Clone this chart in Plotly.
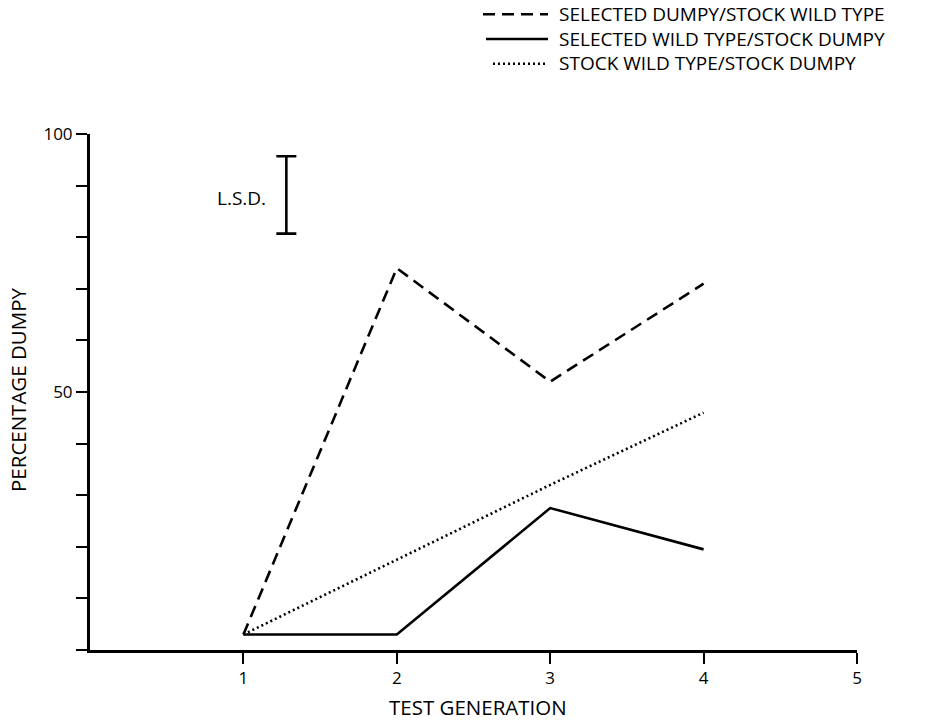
import plotly.graph_objects as go

# ---- data ----
generations = [1, 2, 3, 4]
sel_dumpy_stock_wild = [3, 74, 52, 71]      # dashed
sel_wild_stock_dumpy = [3, 3, 27.5, 19.5]   # solid
stock_wild_stock_dumpy = [3, 17.5, 32, 46]  # dotted
series_names = ["SELECTED DUMPY/STOCK WILD TYPE",
                "SELECTED WILD TYPE/STOCK DUMPY",
                "STOCK WILD TYPE/STOCK DUMPY"]
lsd_x = 1.28
lsd_center = 88.2
lsd_value = 15.0
x_ticks = [1, 2, 3, 4, 5]
y_ticks = [0, 10, 20, 30, 40, 50, 60, 70, 80, 90, 100]
y_ticklabels = ["", "", "", "", "", "50", "", "", "", "", "100"]
x_title = "TEST GENERATION"
y_title = "PERCENTAGE DUMPY"

FONT = "Open Sans"
W, H = 936, 720
ML, MR, MT, MB = 90, 79, 134, 70

dashes = ["12px,7px", "solid", "2px,3px"]
series = [sel_dumpy_stock_wild, sel_wild_stock_dumpy, stock_wild_stock_dumpy]

fig = go.Figure()
for name, vals, dash in zip(series_names, series, dashes):
    fig.add_trace(go.Scatter(x=generations, y=vals, mode="lines", name=name,
                             line=dict(color="black", width=2.6, dash=dash),
                             showlegend=False))

# L.S.D. bar
fig.add_trace(go.Scatter(x=[lsd_x], y=[lsd_center], mode="markers",
                         marker=dict(size=1, color="rgba(0,0,0,0)"),
                         error_y=dict(type="constant", value=lsd_value / 2,
                                      color="black", thickness=2.6, width=10),
                         showlegend=False))

# custom legend (paper coordinates from pixel positions)
pw, ph = W - ML - MR, H - MT - MB
def px(x):
    return (x - ML) / pw
def py(y):
    return (H - MB - y) / ph

LEG_FONT = 19
leg_mid = 39
leg_step = 1.3 * LEG_FONT
leg_rows = [leg_mid - leg_step, leg_mid, leg_mid + leg_step]
leg_x0 = [483, 486, 493]
for i, dash in enumerate(dashes):
    fig.add_shape(type="line", xref="paper", yref="paper",
                  x0=px(leg_x0[i]), x1=px(548), y0=py(leg_rows[i]), y1=py(leg_rows[i]),
                  line=dict(color="black", width=2.4, dash=dash))
fig.add_annotation(xref="paper", yref="paper", x=px(557), y=py(leg_mid),
                   text="<br>".join(series_names), showarrow=False,
                   xanchor="left", yanchor="middle", align="left",
                   font=dict(family=FONT, size=LEG_FONT, color="black"))

fig.add_annotation(xref="paper", yref="paper", x=px(268), y=py(198),
                   text="L.S.D.", showarrow=False, xanchor="right", yanchor="middle",
                   font=dict(family=FONT, size=19, color="black"))

# axis titles
fig.add_annotation(xref="paper", yref="paper", x=px(478), y=py(707),
                   text=x_title, showarrow=False, xanchor="center", yanchor="middle",
                   font=dict(family=FONT, size=20.5, color="black"))
fig.add_annotation(xref="paper", yref="paper", x=px(18), y=py(390),
                   text=y_title, showarrow=False, xanchor="center", yanchor="middle",
                   textangle=-90, font=dict(family=FONT, size=20.5, color="black"))

fig.update_layout(
    width=W, height=H,
    margin=dict(l=ML, r=MR, t=MT, b=MB),
    paper_bgcolor="white", plot_bgcolor="white",
    font=dict(family=FONT, color="black", size=17),
    xaxis=dict(range=[0, 5], tickvals=x_ticks, ticktext=[str(v) for v in x_ticks],
               ticks="outside", ticklen=11, tickwidth=2.4, tickcolor="black",
               showline=True, linewidth=3, linecolor="black", showgrid=False,
               zeroline=False, tickfont=dict(size=17)),
    yaxis=dict(range=[0, 100], tickvals=y_ticks, ticktext=y_ticklabels,
               ticks="outside", ticklen=11, tickwidth=2.4, tickcolor="black",
               showline=True, linewidth=3, linecolor="black", showgrid=False,
               zeroline=False, tickfont=dict(size=17)),
)

fig.write_html("out.html")
